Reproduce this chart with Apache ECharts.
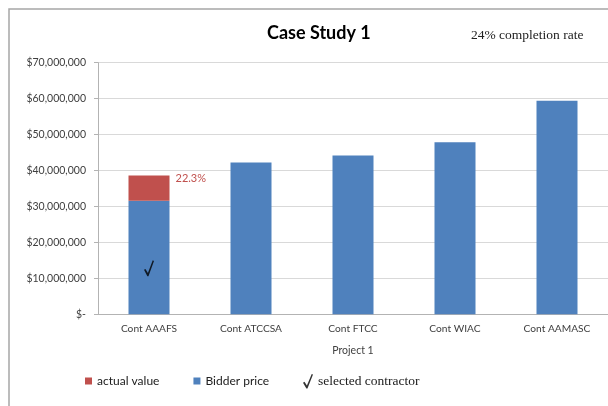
<!DOCTYPE html>
<html>
<head>
<meta charset="utf-8">
<script src="https://cdn.jsdelivr.net/npm/echarts@6/dist/echarts.min.js"></script>
<style>
html,body{margin:0;padding:0;background:#fff;}
#chart{width:608px;height:406px;}
</style>
</head>
<body>
<div id="chart"></div>
<script>
var categories = ['Cont AAAFS', 'Cont ATCCSA', 'Cont FTCC', 'Cont WIAC', 'Cont AAMASC'];
var groupLabels = ['Project 1'];
var bidderPrice = [31600000, 42200000, 44200000, 47900000, 59400000];
var actualExtra = [7000000, null, null, null, null];
var actualLabels = ['22.3%', '', '', '', ''];
var selectedPoint = [[0, 12800000]];
var titleText = 'Case Study 1';
var subText = '24% completion rate';

var chart = echarts.init(document.getElementById('chart'));
var axisGrey = '#b3b3b3';
var labelColor = '#404040';
var sans = 'Lato';
var checkPath = 'path://M0,9.5 L1.6,8.6 L4.3,12.6 L9.6,0 L11,0.6 L4.9,16 L3.7,16 Z';

chart.setOption({
  animation: false,
  backgroundColor: '#fff',
  graphic: [{
    type: 'rect', silent: true,
    shape: { x: 9, y: 9, width: 700, height: 500 },
    style: { fill: 'none', stroke: '#a6a6a6', lineWidth: 1.5 }
  }],
  title: [
    { text: titleText, left: 262, top: 19,
      textStyle: { fontFamily: sans, fontWeight: 'bold', fontSize: 18, color: '#000' } },
    { text: subText, left: 466, top: 23,
      textStyle: { fontFamily: 'Liberation Serif', fontWeight: 'normal', fontSize: 13.5, color: '#222' } }
  ],
  legend: [{
    left: 80, top: 370, itemWidth: 7, itemHeight: 7, itemGap: 34, icon: 'rect',
    data: ['actual value', 'Bidder price'],
    textStyle: { fontFamily: sans, fontSize: 12, color: '#202020' }
  }, {
    left: 298, top: 369, itemWidth: 10, itemHeight: 16,
    data: [{ name: 'selected contractor', icon: checkPath, itemStyle: { color: '#000' } }],
    textStyle: { fontFamily: 'Liberation Serif', fontSize: 13.5, color: '#202020', padding: [3, 0, 0, 0] }
  }],
  grid: { left: 98, right: -4, top: 62.7, bottom: 91.7, containLabel: false },
  xAxis: [{
    type: 'category', data: categories, position: 'bottom',
    axisLine: { lineStyle: { color: axisGrey } },
    axisTick: { length: 23, lineStyle: { color: axisGrey }, interval: 0 },
    axisLabel: { margin: 9, fontFamily: sans, fontSize: 10.2, color: labelColor, interval: 0 }
  }, {
    type: 'category', data: groupLabels, position: 'bottom', offset: 23,
    axisLine: { show: false },
    axisTick: { length: 25, lineStyle: { color: axisGrey } },
    axisLabel: { margin: 8, fontFamily: sans, fontSize: 10.5, color: labelColor }
  }],
  yAxis: {
    type: 'value', min: 0, max: 70000000, interval: 10000000,
    axisLine: { show: true, lineStyle: { color: axisGrey } },
    axisTick: { show: true, length: 4, lineStyle: { color: axisGrey } },
    splitLine: { lineStyle: { color: '#d9d9d9' } },
    axisLabel: {
      margin: 12, fontFamily: sans, fontSize: 10.5, color: labelColor,
      formatter: function (v) { return v === 0 ? '$-' : '$' + v.toLocaleString('en-US'); }
    }
  },
  series: [{
    name: 'Bidder price', type: 'bar', stack: 's', data: bidderPrice,
    barWidth: 41, itemStyle: { color: '#4f81bd' }
  }, {
    name: 'actual value', type: 'bar', stack: 's', data: actualExtra,
    barWidth: 41, itemStyle: { color: '#c0504d' },
    label: {
      show: true, position: ['100%', 0], distance: 0, offset: [6, -3],
      fontFamily: sans, fontSize: 11, color: '#c0504d',
      formatter: function (p) { return actualLabels[p.dataIndex]; }
    }
  }, {
    name: 'selected contractor', type: 'scatter', data: selectedPoint,
    symbol: checkPath, symbolSize: [10, 16], symbolKeepAspect: false,
    itemStyle: { color: '#000' },
    z: 5
  }]
});
</script>
</body>
</html>
